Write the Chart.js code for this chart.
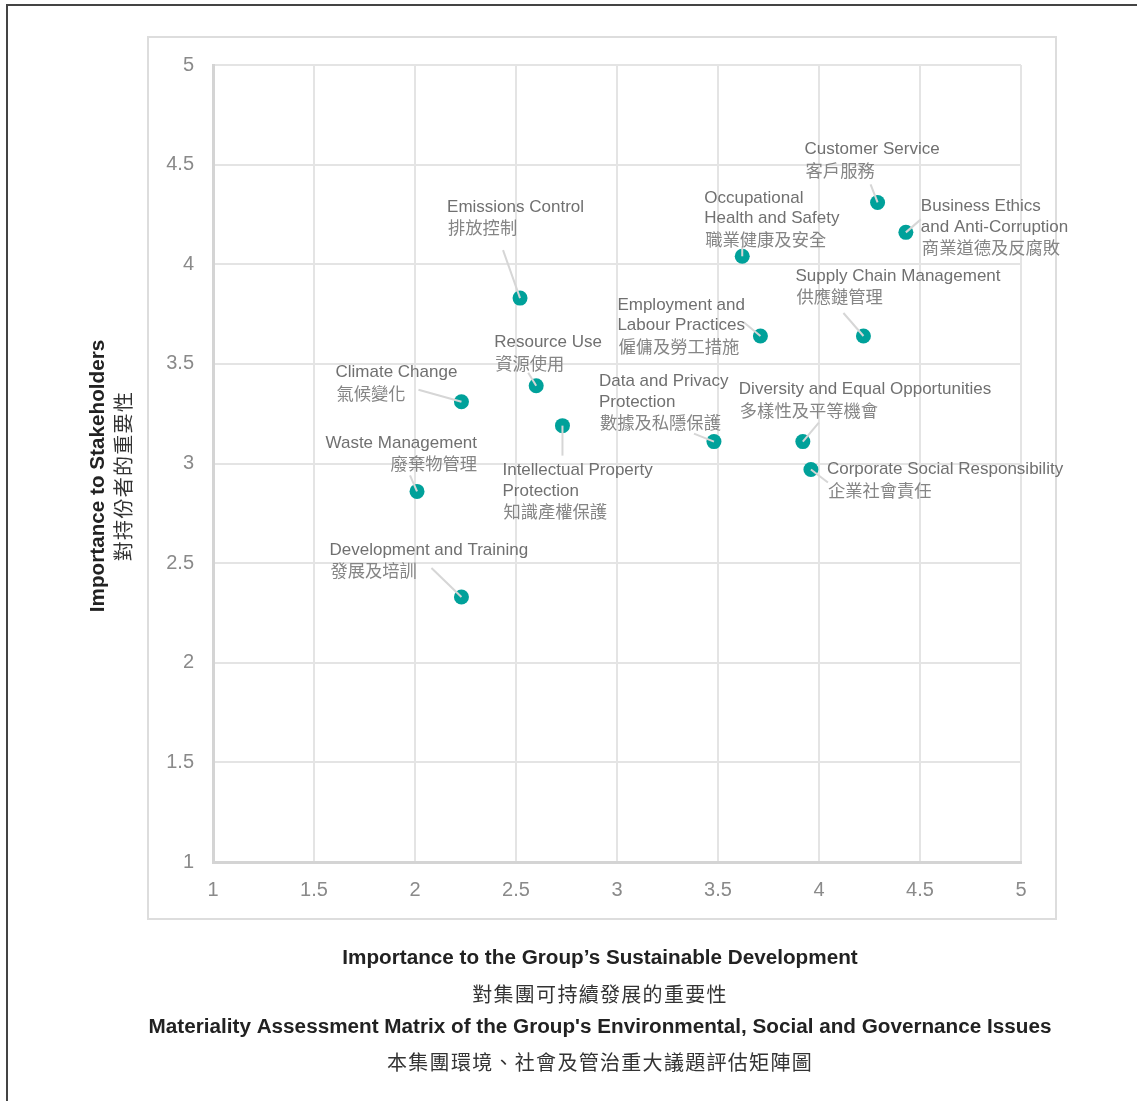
<!DOCTYPE html>
<html>
<head>
<meta charset="utf-8">
<script src="https://cdn.jsdelivr.net/npm/chart.js@4.4.1/dist/chart.umd.min.js"></script>
<style>
  body { margin: 0; background: #fff; }
  canvas { display: block; }
</style>
</head>
<body>
<canvas id="matrix" width="1137" height="1101"></canvas>
<script>
// topics (english lines + chinese line)
const topicsEn = [
  ['Customer Service'],
  ['Business Ethics', 'and Anti-Corruption'],
  ['Occupational', 'Health and Safety'],
  ['Emissions Control'],
  ['Supply Chain Management'],
  ['Employment and', 'Labour Practices'],
  ['Resource Use'],
  ['Climate Change'],
  ['Intellectual Property', 'Protection'],
  ['Data and Privacy', 'Protection'],
  ['Diversity and Equal Opportunities'],
  ['Corporate Social Responsibility'],
  ['Waste Management'],
  ['Development and Training']
];
const topicsZh = [
  '客戶服務', '商業道德及反腐敗', '職業健康及安全', '排放控制', '供應鏈管理',
  '僱傭及勞工措施', '資源使用', '氣候變化', '知識產權保護', '數據及私隱保護',
  '多樣性及平等機會', '企業社會責任', '廢棄物管理', '發展及培訓'
];
// x = importance to the group, y = importance to stakeholders
const groupImportance = [4.29, 4.43, 3.62, 2.52, 4.22, 3.71, 2.60, 2.23, 2.73, 3.48, 3.92, 3.96, 2.01, 2.23];
const stakeholderImportance = [4.31, 4.16, 4.04, 3.83, 3.64, 3.64, 3.39, 3.31, 3.19, 3.11, 3.11, 2.97, 2.86, 2.33];
const axisTicks = [1, 1.5, 2, 2.5, 3, 3.5, 4, 4.5, 5];

const xTitle = 'Importance to the Group’s Sustainable Development';
const xTitleZh = '對集團可持續發展的重要性';
const yTitle = 'Importance to Stakeholders';
const yTitleZh = '對持份者的重要性';
const caption = "Materiality Assessment Matrix of the Group's Environmental, Social and Governance Issues";
const captionZh = '本集團環境、社會及管治重大議題評估矩陣圖';

// label placement relative to the point: [textDx, firstLineDy, align, leaderDx, leaderDy]
const labelLayout = [
  [-73, -53, 'left', -7, -18],
  [15, -26, 'left', 15, -13],
  [-38, -58, 'left', 0, -10],
  [-73, -91, 'left', -17, -48],
  [-68, -60, 'left', -20, -23],
  [-143, -31, 'left', -17, -14],
  [-42, -43, 'left', -8, -13],
  [-126, -29, 'left', -43, -12],
  [-60, 45, 'left', 0, 30],
  [-115, -60, 'left', -20, -8],
  [-64, -52, 'left', 16, -19],
  [16, 0, 'left', 17, 13],
  [60, -48, 'right', -7, -16],
  [-132, -47, 'left', -30, -29]
];

const latin = '"Liberation Sans", Arial, sans-serif';
const cjk = '"Noto Sans CJK TC", "Noto Sans CJK SC", sans-serif';

const framePlugin = {
  id: 'frame',
  beforeDraw(chart) {
    const c = chart.ctx;
    c.save();
    c.fillStyle = '#fff';
    c.fillRect(0, 0, chart.width, chart.height);
    c.strokeStyle = '#444';
    c.lineWidth = 2;
    c.strokeRect(7, 5, 1200, 1200);
    c.strokeStyle = '#dddddd';
    c.lineWidth = 2;
    c.strokeRect(148, 37, 908, 882);
    c.restore();
  },
  afterDraw(chart) {
    const c = chart.ctx;
    c.save();
    c.textAlign = 'center';
    c.textBaseline = 'middle';
    c.fillStyle = '#222';
    c.font = 'bold 20.7px ' + latin;
    c.fillText(xTitle, 600, 958);
    c.fillText(caption, 600, 1027);
    c.fillStyle = '#333';
    c.font = '20px ' + cjk;
    c.letterSpacing = '1.3px';
    c.fillText(xTitleZh, 600, 994);
    c.fillText(captionZh, 600, 1062);
    c.letterSpacing = '0px';
    c.translate(98, 476);
    c.rotate(-Math.PI / 2);
    c.fillStyle = '#222';
    c.font = 'bold 20.7px ' + latin;
    c.fillText(yTitle, 0, 0);
    c.fillStyle = '#333';
    c.font = '20px ' + cjk;
    c.letterSpacing = '1.3px';
    c.fillText(yTitleZh, 0, 25);
    c.restore();
  }
};

const labelPlugin = {
  id: 'topicLabels',
  afterDatasetsDraw(chart) {
    const c = chart.ctx;
    const pts = chart.getDatasetMeta(0).data;
    c.save();
    pts.forEach((p, i) => {
      const [dx, dy, align, lx, ly] = labelLayout[i];
      c.strokeStyle = '#d6d6d6';
      c.lineWidth = 2;
      c.beginPath();
      c.moveTo(p.x + lx, p.y + ly);
      c.lineTo(p.x, p.y);
      c.stroke();

      c.textAlign = align;
      c.textBaseline = 'middle';
      let y = p.y + dy;
      c.fillStyle = '#707070';
      c.font = '17px ' + latin;
      topicsEn[i].forEach(line => {
        c.fillText(line, p.x + dx, y);
        y += 20.5;
      });
      c.fillStyle = '#858585';
      c.font = '17.3px ' + cjk;
      c.fillText(topicsZh[i], p.x + dx + (align === 'left' ? 1 : 0), y);
    });
    c.restore();
  }
};

new Chart(document.getElementById('matrix'), {
  type: 'scatter',
  data: {
    datasets: [{
      data: groupImportance.map((x, i) => ({ x, y: stakeholderImportance[i] })),
      backgroundColor: '#00a19a',
      borderWidth: 0,
      pointRadius: 7.5,
      pointHoverRadius: 7.5
    }]
  },
  options: {
    responsive: false,
    animation: false,
    events: [],
    layout: { padding: { top: 65, right: 116, bottom: 179, left: 0 } },
    plugins: {
      legend: { display: false },
      tooltip: { enabled: false }
    },
    scales: {
      x: {
        type: 'linear',
        min: 1,
        max: 5,
        afterFit: s => { s.height = 60; },
        afterBuildTicks: s => { s.ticks = axisTicks.map(v => ({ value: v })); },
        grid: { color: '#e4e4e4', lineWidth: 2, drawTicks: false },
        border: { color: '#d4d4d4', width: 3 },
        ticks: {
          padding: 16, color: '#8a8a8a', font: { family: latin, size: 20 },
          callback: v => String(v)
        }
      },
      y: {
        min: 1,
        max: 5,
        afterFit: s => { s.width = 213; },
        afterBuildTicks: s => { s.ticks = axisTicks.map(v => ({ value: v })); },
        grid: { color: '#e4e4e4', lineWidth: 2, drawTicks: false },
        border: { color: '#d4d4d4', width: 3 },
        ticks: {
          padding: 19, color: '#8a8a8a', font: { family: latin, size: 20 },
          callback: v => String(v)
        }
      }
    }
  },
  plugins: [framePlugin, labelPlugin]
});
</script>
</body>
</html>
